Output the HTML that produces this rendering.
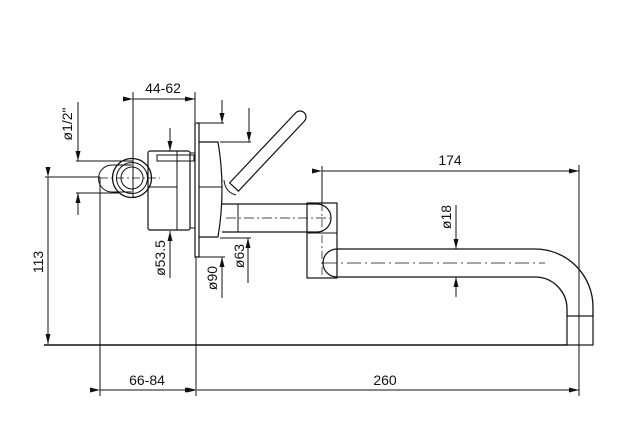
<!DOCTYPE html>
<html><head><meta charset="utf-8"><style>
html,body{margin:0;padding:0;background:#fff;}
svg{display:block;}
text{font-family:"Liberation Sans",sans-serif;font-size:14px;fill:#111;}
</style></head><body>
<svg width="622" height="445" viewBox="0 0 622 445" xmlns="http://www.w3.org/2000/svg">
<defs>
<marker id="a" markerWidth="10" markerHeight="5" refX="10" refY="2.5" orient="auto" markerUnits="userSpaceOnUse">
<path d="M0,0 L10,2.5 L0,5 z" fill="#111"/></marker>
</defs>
<g stroke="#111" stroke-width="1" fill="none">
<line x1="44" y1="345" x2="567" y2="345" stroke-width="1.4"/>
<line x1="45" y1="177" x2="100" y2="177"/>
<line x1="48" y1="177" x2="48" y2="344" marker-start="url(#a)" marker-end="url(#a)"/>
<line x1="100" y1="177" x2="100" y2="396"/>
<line x1="196" y1="257" x2="196" y2="396"/>
<line x1="579" y1="165" x2="579" y2="396"/>
<line x1="322" y1="166" x2="322" y2="203"/>
<line x1="100" y1="390" x2="195" y2="390" marker-start="url(#a)" marker-end="url(#a)"/>
<line x1="197" y1="390" x2="579" y2="390" marker-start="url(#a)" marker-end="url(#a)"/>
<line x1="322" y1="171" x2="579" y2="171" marker-start="url(#a)" marker-end="url(#a)"/>
<line x1="133" y1="99" x2="195" y2="99" marker-start="url(#a)" marker-end="url(#a)"/>
<line x1="133" y1="92" x2="133" y2="198"/>
<line x1="195" y1="92" x2="195" y2="122"/>
<line x1="78" y1="102" x2="78" y2="161" marker-end="url(#a)"/>
<line x1="76" y1="161" x2="133" y2="161"/>
<line x1="78" y1="215" x2="78" y2="193" marker-end="url(#a)"/>
<line x1="76" y1="193" x2="120" y2="193"/>
<line x1="170" y1="128" x2="170" y2="151" marker-end="url(#a)"/>
<line x1="222" y1="100" x2="222" y2="123" marker-end="url(#a)"/>
<line x1="199" y1="123" x2="224" y2="123"/>
<line x1="249" y1="108" x2="249" y2="142" marker-end="url(#a)"/>
<line x1="220" y1="142" x2="251" y2="142"/>
<line x1="170" y1="278" x2="170" y2="231" marker-end="url(#a)"/>
<line x1="222" y1="298" x2="222" y2="257" marker-end="url(#a)"/>
<line x1="199" y1="257" x2="225" y2="257"/>
<line x1="248" y1="283" x2="248" y2="238" marker-end="url(#a)"/>
<line x1="220" y1="238" x2="251" y2="238"/>
<line x1="456" y1="205" x2="456" y2="249" marker-end="url(#a)"/>
<line x1="456" y1="297" x2="456" y2="277" marker-end="url(#a)"/>
<path d="M132,165 L112,165 A13.5,13.5 0 0 0 112,192 L132,192"/>
<circle cx="132" cy="178" r="19.5" stroke-width="1.3"/>
<circle cx="132" cy="178" r="15.5"/>
<circle cx="132" cy="178" r="11"/>
<line x1="100" y1="178" x2="160" y2="178" stroke-dasharray="8,3,2,3" stroke-width="0.7"/>
<rect x="148" y="151" width="42" height="79" rx="2" stroke-width="1.2"/>
<line x1="177" y1="151" x2="177" y2="230"/>
<line x1="148" y1="187" x2="177" y2="187"/>
<rect x="190" y="153" width="5" height="75"/>
<rect x="157" y="155" width="37" height="6"/>
<rect x="195" y="123" width="4" height="134" stroke-width="1.2"/>
<path d="M199,142 L218,142 Q226,189 218,237 L199,237" stroke-width="1.2"/>
<line x1="199" y1="187" x2="222" y2="187"/>
<path d="M229.6,182.9 L295.6,112.9 A6,6 0 0 1 304.4,121.1 L238.4,191.1 Z" stroke-width="1.2"/>
<path d="M224,180 Q225,192 236,195"/>
<path d="M222,204 L317,204 A14,14 0 0 1 317,232 L222,232" stroke-width="1.2"/>
<line x1="238" y1="204" x2="238" y2="232"/>
<line x1="226" y1="218" x2="330" y2="218" stroke-dasharray="10,3,2,3" stroke-width="0.7"/>
<rect x="307" y="203" width="30" height="75" stroke-width="1.2"/>
<line x1="307" y1="233" x2="337" y2="233"/>
<line x1="322" y1="203" x2="322" y2="278" stroke-dasharray="8,3,2,3" stroke-width="0.7"/>
<path d="M337,249 L535,249 A58,58 0 0 1 593,307 L593,316" stroke-width="1.3"/>
<path d="M337,277 L535,277 A32,32 0 0 1 567,309 L567,316" stroke-width="1.3"/>
<path d="M337,249 A14,14 0 0 0 337,277" stroke-width="1.2"/>
<line x1="323" y1="263" x2="545" y2="263" stroke-dasharray="14,4,2,4" stroke-width="0.8"/>
<rect x="567" y="316" width="26" height="29" stroke-width="1.2"/>
<line x1="579" y1="316" x2="579" y2="345" stroke-dasharray="6,3" stroke-width="0.7"/>
</g>
<text x="163" y="93" text-anchor="middle">44-62</text>
<text x="450" y="165" text-anchor="middle">174</text>
<text x="147" y="385" text-anchor="middle">66-84</text>
<text x="385" y="385" text-anchor="middle">260</text>
<text transform="translate(43,262) rotate(-90)" text-anchor="middle">113</text>
<text transform="translate(72,124) rotate(-90)" text-anchor="middle">ø1/2"</text>
<text transform="translate(165,258) rotate(-90)" text-anchor="middle">ø53.5</text>
<text transform="translate(217,278) rotate(-90)" text-anchor="middle">ø90</text>
<text transform="translate(244,256) rotate(-90)" text-anchor="middle">ø63</text>
<text transform="translate(451,217) rotate(-90)" text-anchor="middle">ø18</text>
</svg>
</body></html>
